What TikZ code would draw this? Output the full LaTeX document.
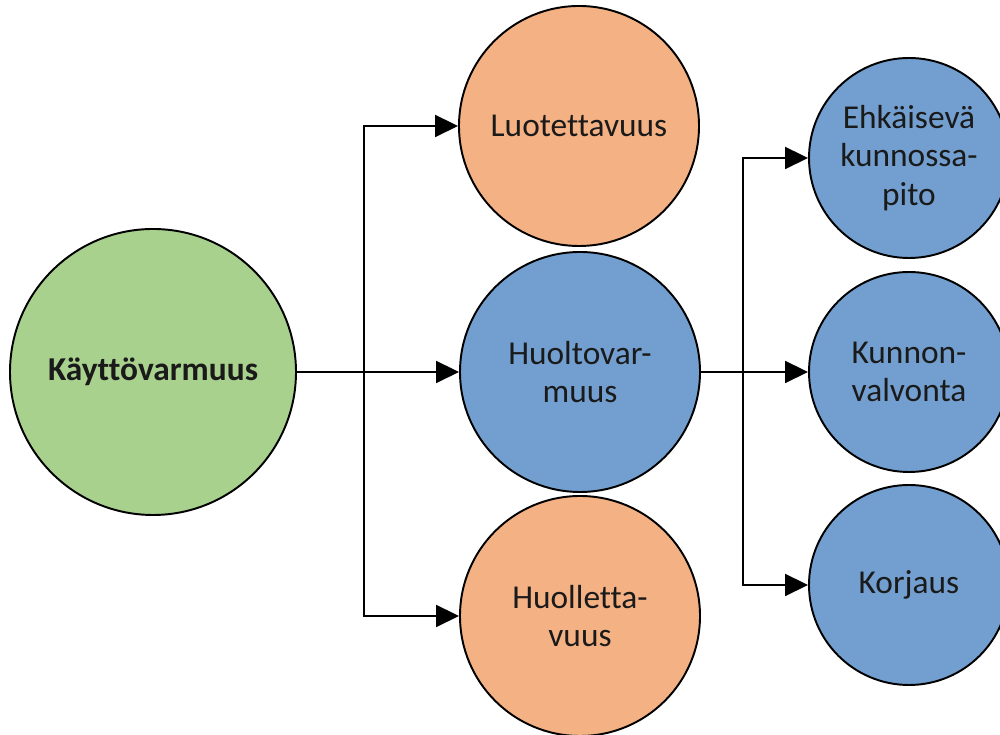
\documentclass[tikz,border=0pt]{standalone}
\usepackage{fontspec}
\setmainfont[Ligatures=NoCommon]{Carlito}
\usetikzlibrary{arrows.meta}
\definecolor{cgreen}{HTML}{A9D18E}
\definecolor{corange}{HTML}{F4B183}
\definecolor{cblue}{HTML}{729FCF}
\definecolor{ctext}{HTML}{1A1A1A}
\begin{document}
\begin{tikzpicture}[
  ball/.style={circle, draw=black, line width=1.1pt, inner sep=0pt,
    align=center, text=ctext, font=\fontsize{19}{21.8}\selectfont},
  big/.style={ball, minimum size=4.8cm},
  small/.style={ball, minimum size=4.0cm},
  arr/.style={line width=1.1pt, -{Triangle[length=0.46cm, width=0.44cm]}}
]
\useasboundingbox (0,0) rectangle (20,14.7);

% root
\node[ball, fill=cgreen, minimum size=5.72cm,
      font=\fontsize{19}{21.8}\selectfont\bfseries] (root) at (3.06,7.26) {Käyttövarmuus};

% second level
\node[big, fill=corange] (luot) at (11.58,12.18) {Luotettavuus};
\node[big, fill=cblue]   (huol) at (11.6,7.26)   {Huoltovar-\\muus};
\node[big, fill=corange] (huet) at (11.6,2.38)   {Huolletta-\\vuus};

% third level
\node[small, fill=cblue] (ehk) at (18.18,11.54) {Ehkäisevä\\kunnossa-\\pito};
\node[small, fill=cblue] (kun) at (18.18,7.26)  {Kunnon-\\valvonta};
\node[small, fill=cblue] (kor) at (18.18,3.0)   {Korjaus};

% branch points
\coordinate (j1) at (7.28,7.26);
\coordinate (j2) at (14.86,7.26);

% connectors
\draw[arr] (root.east) -- (huol.west);
\draw[arr] (j1) |- (luot.west);
\draw[arr] (j1) |- (huet.west);

\draw[arr] (huol.east) -- (kun.west);
\draw[arr] (j2) |- (ehk.west);
\draw[arr] (j2) |- (kor.west);
\end{tikzpicture}
\end{document}
